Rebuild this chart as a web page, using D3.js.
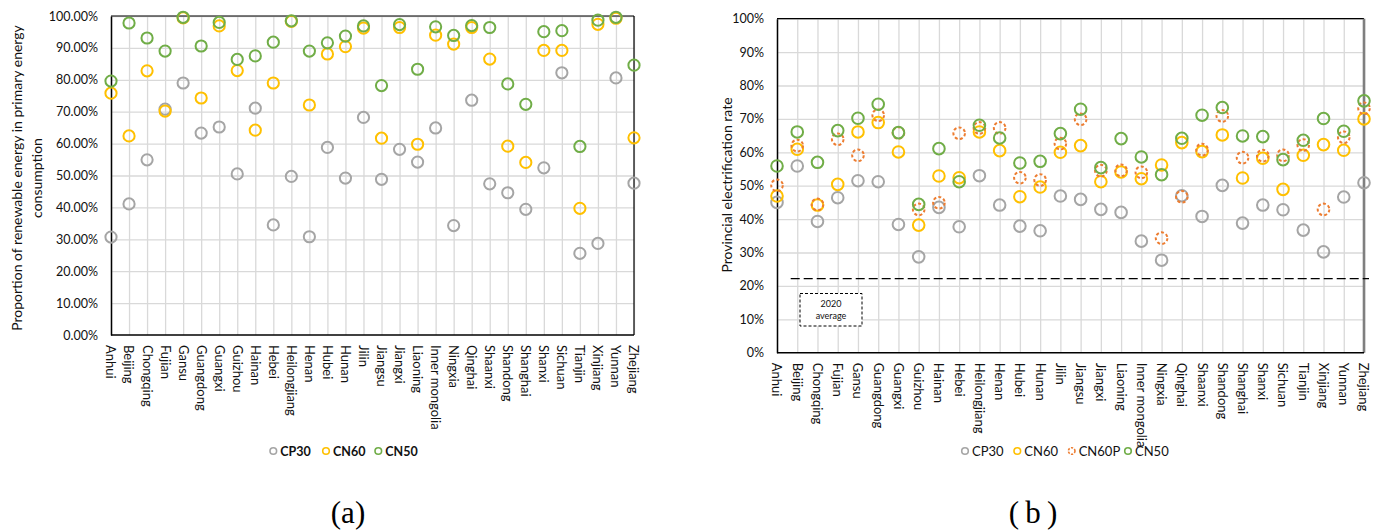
<!DOCTYPE html>
<html>
<head>
<meta charset="utf-8">
<script src="https://cdn.jsdelivr.net/npm/d3@7"></script>
<style>
  html, body { margin: 0; padding: 0; background: #fff; }
  svg { display: block; font-family: Lato, "Open Sans", sans-serif; }
  .caption { font-family: "Liberation Serif", "DejaVu Serif", serif; }
</style>
</head>
<body>
<svg id="chart" width="1378" height="530"></svg>
<script>
// Provinces shown along both x axes
const provinces = ["Anhui","Beijing","Chongqing","Fujian","Gansu","Guangdong","Guangxi","Guizhou","Hainan","Hebei",
  "Heilongjiang","Henan","Hubei","Hunan","Jilin","Jiangsu","Jiangxi","Liaoning","Inner mongolia","Ningxia",
  "Qinghai","Shaanxi","Shandong","Shanghai","Shanxi","Sichuan","Tianjin","Xinjiang","Yunnan","Zhejiang"];

// (a) Renewable share of primary energy consumption, %
const renCP30 = [30.7,41.1,54.9,70.8,79.0,63.3,65.2,50.5,71.1,34.5,49.7,30.8,58.8,49.2,68.2,48.8,58.2,54.2,64.9,34.3,73.6,47.4,44.6,39.4,52.4,82.2,25.6,28.7,80.6,47.6];
const renCN60 = [75.8,62.4,82.8,70.2,99.4,74.3,96.9,82.9,64.2,79.0,98.3,72.1,88.1,90.4,96.2,61.7,96.4,59.8,94.0,91.2,96.4,86.5,59.2,54.1,89.2,89.2,39.7,97.4,99.3,61.8];
const renCN50 = [79.6,97.8,93.1,89.0,99.6,90.6,98.0,86.4,87.5,91.8,98.5,89.0,91.6,93.7,96.9,78.2,97.3,83.3,96.6,93.9,97.0,96.4,78.7,72.3,95.1,95.4,59.1,98.7,99.6,84.6];

// (b) Provincial electrification rate, %
const eleCP30  = [45.0,55.9,39.3,46.4,51.5,51.2,38.4,28.7,43.5,37.7,53.0,44.2,37.9,36.5,46.9,45.9,42.9,42.0,33.4,27.7,47.0,40.8,50.1,38.8,44.2,42.8,36.7,30.2,46.6,50.9];
const eleCN60  = [46.9,60.9,44.2,50.4,66.1,68.9,60.1,38.2,52.9,52.4,66.1,60.5,46.7,49.6,60.0,62.0,51.2,54.1,52.1,56.2,62.9,60.2,65.2,52.3,58.2,48.9,59.1,62.3,60.6,70.0];
const eleCN60P = [50.1,62.0,44.4,63.9,59.1,71.1,65.8,42.9,44.9,65.7,67.3,67.3,52.4,51.7,62.6,69.9,54.5,54.6,54.0,34.3,46.7,60.8,70.9,58.4,59.0,59.1,62.2,42.9,64.5,73.2];
const eleCN50  = [55.9,66.1,57.0,66.5,70.2,74.4,65.9,44.4,61.1,51.2,68.1,64.3,56.8,57.3,65.6,72.9,55.4,64.1,58.6,53.3,64.2,71.1,73.4,64.9,64.7,57.8,63.6,70.1,66.3,75.4];

// 2020 national average electrification rate, %
const avg2020 = 22.2;

const seriesA = [
  {name: "CP30", values: renCP30, color: "#A5A5A5", dash: null},
  {name: "CN60", values: renCN60, color: "#FFC000", dash: null},
  {name: "CN50", values: renCN50, color: "#70AD47", dash: null}
];
const seriesB = [
  {name: "CP30",  values: eleCP30,  color: "#A5A5A5", dash: null},
  {name: "CN60",  values: eleCN60,  color: "#FFC000", dash: null},
  {name: "CN60P", values: eleCN60P, color: "#ED7D31", dash: "3,2.2"},
  {name: "CN50",  values: eleCN50,  color: "#70AD47", dash: null}
];

const svg = d3.select("#chart");
const gridColor = "#D9D9D9";

function drawPanel(cfg) {
  const x = d3.scalePoint().domain(provinces).range([cfg.x0, cfg.x1]);
  const y = d3.scaleLinear().domain([0, 100]).range([cfg.y0, cfg.y1]);
  const g = svg.append("g");

  // horizontal grid
  g.append("g")
    .attr("transform", `translate(${cfg.x0},0)`)
    .call(d3.axisLeft(y).tickValues(d3.range(10, 101, 10)).tickSize(-(cfg.x1 - cfg.x0)).tickFormat(""))
    .call(s => s.select(".domain").remove())
    .call(s => s.selectAll("line").attr("stroke", gridColor).attr("stroke-width", 1.3));

  // vertical grid at each province
  g.append("g")
    .attr("transform", `translate(0,${cfg.y0})`)
    .call(d3.axisBottom(x).tickSize(-(cfg.y0 - cfg.y1)).tickFormat(""))
    .call(s => s.select(".domain").remove())
    .call(s => s.selectAll("line").attr("stroke", gridColor).attr("stroke-width", 1.3));

  // frame
  g.append("line").attr("x1", cfg.x0).attr("x2", cfg.x1).attr("y1", cfg.y1).attr("y2", cfg.y1)
    .attr("stroke", "#000").attr("stroke-width", 1.2);
  g.append("line").attr("x1", cfg.x1).attr("x2", cfg.x1).attr("y1", cfg.y1).attr("y2", cfg.y0)
    .attr("stroke", cfg.rightColor).attr("stroke-width", cfg.rightWidth);

  // y axis labels
  g.append("g")
    .attr("transform", `translate(${cfg.x0},0)`)
    .call(d3.axisLeft(y).tickValues(d3.range(0, 101, 10)).tickSize(0).tickPadding(cfg.tickPad)
      .tickFormat(v => d3.format(cfg.fmt)(v / 100)))
    .call(s => s.select(".domain").attr("stroke", "#000").attr("stroke-width", 1.5))
    .call(s => s.selectAll("text").attr("font-size", 12.5).attr("fill", "#111")
      .style("font-family", "Lato, 'Open Sans', sans-serif"));

  // x axis line
  g.append("line").attr("x1", cfg.x0).attr("x2", cfg.x1).attr("y1", cfg.y0).attr("y2", cfg.y0)
    .attr("stroke", "#000").attr("stroke-width", 1.5);

  // rotated province names
  g.append("g").selectAll("text").data(provinces).join("text")
    .attr("transform", d => `translate(${x(d)},${cfg.y0 + cfg.labelGap}) rotate(90)`)
    .attr("dy", "0.35em")
    .attr("font-size", 13)
    .attr("fill", "#111")
    .text(d => d);

  return {x, y, g};
}

function drawSeries(panel, series, r) {
  series.forEach(s => {
    panel.g.append("g").selectAll("circle").data(s.values).join("circle")
      .attr("cx", (v, i) => panel.x(provinces[i]))
      .attr("cy", v => panel.y(v))
      .attr("r", r)
      .attr("fill", "none")
      .attr("stroke", s.color)
      .attr("stroke-width", 2)
      .attr("stroke-dasharray", s.dash);
  });
}

function drawLegend(series, xs, yc, bold, fontSize) {
  const lg = svg.append("g");
  series.forEach((s, i) => {
    lg.append("circle").attr("cx", xs[i]).attr("cy", yc).attr("r", 3.3)
      .attr("fill", "none").attr("stroke", s.color).attr("stroke-width", 1.6)
      .attr("stroke-dasharray", s.dash ? "2.2,1.4" : null);
    lg.append("text").attr("x", xs[i] + 7).attr("y", yc).attr("dy", "0.36em")
      .attr("font-size", fontSize).attr("font-weight", bold ? 700 : 400).attr("fill", "#111")
      .text(s.name);
  });
}

// ---- panel (a) ----
const pA = drawPanel({x0: 111, x1: 634, y0: 335, y1: 16, fmt: ".2%", tickPad: 13,
  labelGap: 10, rightColor: "#000", rightWidth: 1.2});
drawSeries(pA, seriesA, 5.6);

svg.append("text")
  .attr("transform", "translate(22,178) rotate(-90)")
  .attr("text-anchor", "middle").attr("font-size", 14).attr("fill", "#111")
  .selectAll("tspan").data(["Proportion of renewable energy in primary energy", "consumption"]).join("tspan")
  .attr("x", 0).attr("dy", (d, i) => i === 0 ? 0 : "1.45em").text(d => d);

drawLegend(seriesA, [273.3, 326, 378.3], 451, true, 12.5);

svg.append("text").attr("class", "caption").attr("x", 348).attr("y", 523).attr("text-anchor", "middle")
  .attr("font-size", 31).attr("fill", "#000")
  .text("(a)");

// ---- panel (b) ----
const pB = drawPanel({x0: 777, x1: 1364, y0: 352.7, y1: 18.7, fmt: ".0%", tickPad: 13,
  labelGap: 10, rightColor: "#7F7F7F", rightWidth: 2.6});

// 2020 average reference line
svg.append("line")
  .attr("x1", 790.7).attr("x2", 1369)
  .attr("y1", pB.y(avg2020)).attr("y2", pB.y(avg2020))
  .attr("stroke", "#000").attr("stroke-width", 1.2).attr("stroke-dasharray", "9,4");

drawSeries(pB, seriesB, 5.8);

const note = svg.append("g");
note.append("rect").attr("x", 800).attr("y", 293.5).attr("width", 62).attr("height", 32.5)
  .attr("fill", "#fff").attr("stroke", "#000").attr("stroke-width", 1).attr("stroke-dasharray", "3,2");
note.append("text").attr("x", 831).attr("y", 307).attr("text-anchor", "middle")
  .attr("font-size", 9).attr("fill", "#111").text("2020");
note.append("text").attr("x", 831).attr("y", 318.5).attr("text-anchor", "middle")
  .attr("font-size", 9).attr("fill", "#111").text("average");

svg.append("text")
  .attr("transform", "translate(732,185) rotate(-90)")
  .attr("text-anchor", "middle").attr("font-size", 14).attr("fill", "#111")
  .text("Provincial electrification rate");

drawLegend(seriesB, [965, 1017.3, 1071.7, 1128], 451, false, 13);

svg.append("text").attr("class", "caption").attr("x", 1033).attr("y", 523).attr("text-anchor", "middle")
  .attr("font-size", 31).attr("fill", "#000")
  .attr("xml:space", "preserve")
  .text("(\u2009b\u2009)");
</script>
</body>
</html>
